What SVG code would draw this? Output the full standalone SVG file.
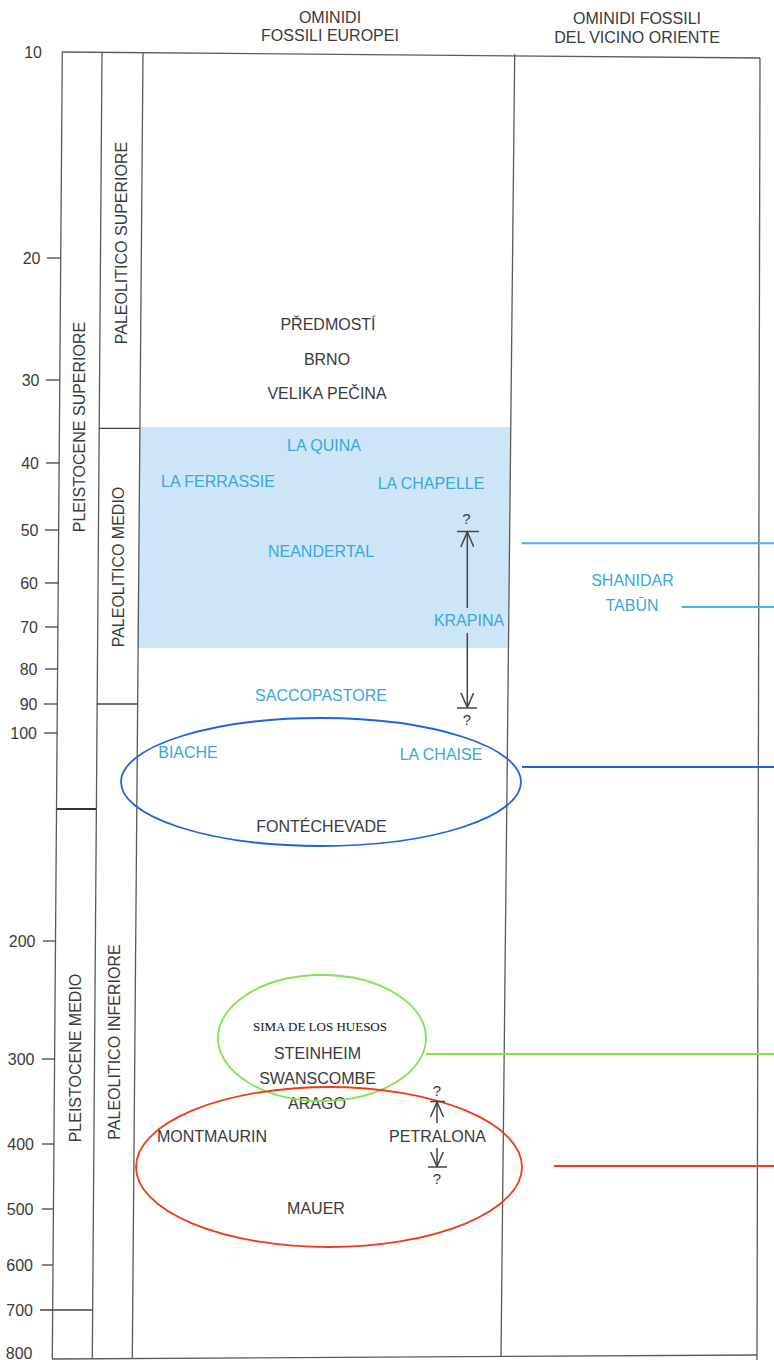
<svg xmlns="http://www.w3.org/2000/svg" width="774" height="1360" viewBox="0 0 774 1360">
<style>
.t{font-family:"Liberation Sans",Arial,sans-serif;font-size:16px;fill:#3a3a3a;text-anchor:middle}
.b{fill:#3aa5df}
.ax{font-family:"Liberation Sans",Arial,sans-serif;font-size:16px;fill:#3a3a3a;text-anchor:end}
.ser{font-family:"Liberation Serif","Times New Roman",serif;font-size:13px;fill:#111;text-anchor:middle}
.fr{stroke:#5a5a5a;stroke-width:1.3;fill:none}
.tk{stroke:#444;stroke-width:1.3}
.ar{stroke:#444;stroke-width:1.5;fill:none}
</style>
<defs>
<marker id="v" viewBox="0 0 15 14" refX="15" refY="7" markerWidth="15" markerHeight="14" markerUnits="userSpaceOnUse" orient="auto">
<path d="M0,0.5 L15,7 L0,13.5" fill="none" stroke="#444" stroke-width="1.5"/>
</marker>
</defs>
<rect width="774" height="1360" fill="#fff"/>

<g id="shaded-band">
<polygon points="140,427 511,427 508,648 137,648" fill="#cde6f7"/>
</g>

<g id="frame">
<line class="fr" x1="62" y1="52" x2="760" y2="58"/>
<line class="fr" x1="62.3" y1="52" x2="52.3" y2="1359"/>
<line class="fr" x1="102" y1="52" x2="92.3" y2="1358"/>
<line class="fr" x1="143" y1="52" x2="132.3" y2="1358"/>
<line class="fr" x1="514.7" y1="54" x2="501" y2="1356"/>
<line class="fr" x1="760" y1="58" x2="757" y2="1360"/>
<line class="fr" x1="52" y1="1359" x2="757" y2="1355"/>
<line x1="56.5" y1="809" x2="96.2" y2="809" stroke="#333" stroke-width="2"/>
<line class="tk" x1="99" y1="428.3" x2="139.6" y2="428.3"/>
<line class="tk" x1="96.8" y1="704" x2="137.5" y2="704"/>
<line class="tk" x1="40" y1="1310" x2="92.3" y2="1310"/>
</g>

<g id="axis">
<line class="tk" x1="47" y1="258" x2="60.7" y2="258"/>
<line class="tk" x1="46" y1="380" x2="59.8" y2="380"/>
<line class="tk" x1="46" y1="463" x2="59.2" y2="463"/>
<line class="tk" x1="45" y1="530" x2="58.6" y2="530"/>
<line class="tk" x1="45" y1="583" x2="58.2" y2="583"/>
<line class="tk" x1="45" y1="627" x2="57.9" y2="627"/>
<line class="tk" x1="45" y1="669" x2="57.6" y2="669"/>
<line class="tk" x1="44" y1="704" x2="57.3" y2="704"/>
<line class="tk" x1="44" y1="733" x2="57.1" y2="733"/>
<line class="tk" x1="43" y1="941" x2="55.5" y2="941"/>
<line class="tk" x1="42" y1="1059" x2="54.6" y2="1059"/>
<line class="tk" x1="42" y1="1144" x2="53.9" y2="1144"/>
<line class="tk" x1="42" y1="1209" x2="53.4" y2="1209"/>
<line class="tk" x1="42" y1="1265" x2="53" y2="1265"/>
<text class="ax" x="42" y="57.7">10</text>
<text class="ax" x="40.5" y="263.7">20</text>
<text class="ax" x="39.5" y="385.7">30</text>
<text class="ax" x="39" y="468.7">40</text>
<text class="ax" x="38.5" y="535.7">50</text>
<text class="ax" x="38" y="588.7">60</text>
<text class="ax" x="38" y="632.7">70</text>
<text class="ax" x="37.5" y="674.7">80</text>
<text class="ax" x="37.5" y="709.7">90</text>
<text class="ax" x="37" y="738.7">100</text>
<text class="ax" x="35.5" y="946.7">200</text>
<text class="ax" x="34.5" y="1064.7">300</text>
<text class="ax" x="34" y="1149.7">400</text>
<text class="ax" x="33.5" y="1214.7">500</text>
<text class="ax" x="33" y="1270.7">600</text>
<text class="ax" x="33" y="1315.7">700</text>
<text class="ax" x="32.5" y="1359">800</text>
</g>

<g id="headers">
<text class="t" x="330" y="23">OMINIDI</text>
<text class="t" x="330" y="41">FOSSILI EUROPEI</text>
<text class="t" x="637" y="24">OMINIDI FOSSILI</text>
<text class="t" x="637" y="43">DEL VICINO ORIENTE</text>
</g>

<g id="periods">
<text class="t" transform="translate(84.7,427) rotate(-90)">PLEISTOCENE SUPERIORE</text>
<text class="t" transform="translate(80.5,1058) rotate(-90)">PLEISTOCENE MEDIO</text>
<text class="t" transform="translate(126.7,243) rotate(-90)">PALEOLITICO SUPERIORE</text>
<text class="t" transform="translate(124,567) rotate(-90)">PALEOLITICO MEDIO</text>
<text class="t" transform="translate(119.7,1042) rotate(-90)">PALEOLITICO INFERIORE</text>
</g>

<g id="predmosti"><text class="t" x="328" y="329.7">PŘEDMOSTÍ</text></g>
<g id="brno"><text class="t" x="327" y="364.7">BRNO</text></g>
<g id="velika-pecina"><text class="t" x="327" y="399.2">VELIKA PEČINA</text></g>
<g id="la-quina"><text class="t b" x="324" y="450.7">LA QUINA</text></g>
<g id="la-ferrassie"><text class="t b" x="218" y="486.7">LA FERRASSIE</text></g>
<g id="la-chapelle"><text class="t b" x="431" y="488.7">LA CHAPELLE</text></g>
<g id="neandertal"><text class="t b" x="321" y="556.7">NEANDERTAL</text></g>
<g id="krapina"><text class="t b" x="469" y="626.4">KRAPINA</text></g>
<g id="saccopastore"><text class="t b" x="321" y="700.7">SACCOPASTORE</text></g>
<g id="biache"><text class="t b" x="188" y="757.7">BIACHE</text></g>
<g id="la-chaise"><text class="t b" x="441" y="759.7">LA CHAISE</text></g>
<g id="fontechevade"><text class="t" x="321.5" y="831.7">FONTÉCHEVADE</text></g>
<g id="sima"><text class="ser" x="320" y="1030.5">SIMA DE LOS HUESOS</text></g>
<g id="steinheim"><text class="t" x="317.5" y="1058.7">STEINHEIM</text></g>
<g id="swanscombe"><text class="t" x="317.5" y="1083.7">SWANSCOMBE</text></g>
<g id="arago"><text class="t" x="317" y="1108.7">ARAGO</text></g>
<g id="montmaurin"><text class="t" x="212" y="1141.7">MONTMAURIN</text></g>
<g id="petralona"><text class="t" x="437.5" y="1141.7">PETRALONA</text></g>
<g id="mauer"><text class="t" x="316" y="1213.7">MAUER</text></g>
<g id="shanidar"><text class="t b" x="632.5" y="585.7">SHANIDAR</text></g>
<g id="tabun"><text class="t b" x="632" y="610.7">TABŪN</text></g>

<g id="groups">
<ellipse cx="321" cy="782" rx="200" ry="64" fill="none" stroke="#1f63df" stroke-width="1.8"/>
<ellipse cx="322" cy="1038" rx="104" ry="63" fill="none" stroke="#80e34f" stroke-width="1.8"/>
<ellipse cx="329" cy="1167" rx="193" ry="80" fill="none" stroke="#ef3b17" stroke-width="1.8"/>
</g>

<g id="connectors">
<line x1="521.5" y1="543.3" x2="774" y2="543.3" stroke="#45b4ee" stroke-width="2"/>
<line x1="681.7" y1="607" x2="774" y2="607" stroke="#45b4ee" stroke-width="2"/>
<line x1="522" y1="767" x2="774" y2="767" stroke="#1f63df" stroke-width="2"/>
<line x1="426" y1="1054" x2="774" y2="1054" stroke="#80e34f" stroke-width="2"/>
<line x1="554" y1="1166" x2="774" y2="1166" stroke="#ef3b17" stroke-width="2"/>

<line class="ar" x1="457" y1="531.5" x2="479" y2="531.5"/>
<line class="ar" x1="467.3" y1="608" x2="467.3" y2="532" marker-end="url(#v)"/>
<line class="ar" x1="467.3" y1="633" x2="467.3" y2="707.5" marker-end="url(#v)"/>
<line class="ar" x1="457" y1="708" x2="477" y2="708"/>
<text class="t" x="466.5" y="523.5" style="font-size:15px">?</text>
<text class="t" x="467" y="724.5" style="font-size:15px">?</text>

<line class="ar" x1="430" y1="1101.5" x2="445" y2="1101.5"/>
<line class="ar" x1="437" y1="1123" x2="437" y2="1102" marker-end="url(#v)"/>
<line class="ar" x1="437" y1="1148" x2="437" y2="1166.5" marker-end="url(#v)"/>
<line class="ar" x1="428" y1="1167" x2="447" y2="1167"/>
<text class="t" x="437" y="1096" style="font-size:15px">?</text>
<text class="t" x="437" y="1183.5" style="font-size:15px">?</text>
</g>
</svg>
